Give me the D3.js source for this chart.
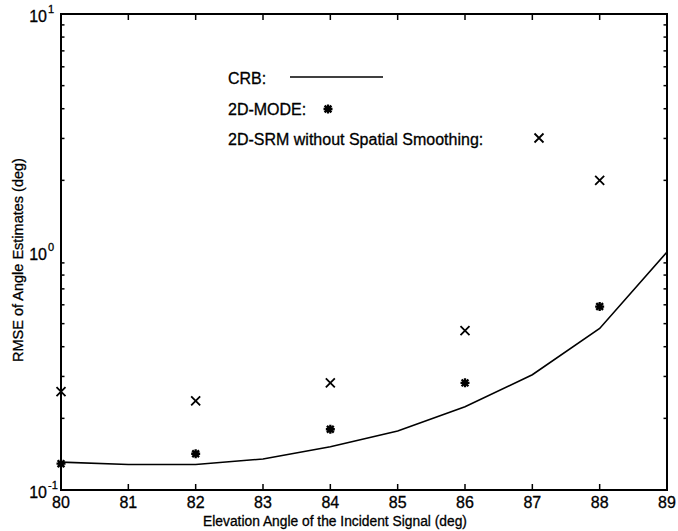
<!DOCTYPE html>
<html>
<head>
<meta charset="utf-8">
<script src="https://cdn.jsdelivr.net/npm/d3@7"></script>
<style>
  html, body { margin: 0; padding: 0; background: #fff; }
  svg { display: block; }
  text { font-family: "Liberation Sans", Arial, Helvetica, sans-serif; fill: #000; stroke: #000; stroke-width: 0.3; }
</style>
</head>
<body>
<svg id="chart" width="678" height="531"></svg>
<script>
// Elevation angles (deg)
const angles = [80, 81, 82, 83, 84, 85, 86, 87, 88, 89];
// Cramer-Rao bound, RMSE in degrees
const crb = [0.131, 0.128, 0.128, 0.135, 0.152, 0.177, 0.224, 0.305, 0.477, 1.0];
// Simulated estimators (evaluated at even angles)
const simAngles = [80, 82, 84, 86, 88];
const mode2d = [0.129, 0.142, 0.180, 0.282, 0.590];
const srm2d = [0.259, 0.237, 0.282, 0.467, 2.0];
// Axis ticks
const xTicks = [80, 81, 82, 83, 84, 85, 86, 87, 88, 89];
const yDecades = [0.1, 1, 10];
const yDecadeExp = ["-1", "0", "1"];
const legendLabels = ["CRB:", "2D-MODE:", "2D-SRM without Spatial Smoothing:"];

const svg = d3.select("#chart");
const x = d3.scaleLinear().domain([80, 89]).range([61, 667]);
const y = d3.scaleLog().domain([0.1, 10]).range([490, 14]);

const minorTicks = [];
[0.1, 1].forEach(d => { for (let k = 2; k <= 9; k++) minorTicks.push(d * k); });

const axisG = svg.append("g").attr("stroke", "#000");

// x ticks, inward on bottom and top
axisG.append("g").selectAll("line").data(xTicks.slice(1, -1)).join("line")
  .attr("x1", d => x(d)).attr("x2", d => x(d))
  .attr("y1", y(0.1)).attr("y2", y(0.1) - 6).attr("stroke-width", 1.5);
axisG.append("g").selectAll("line").data(xTicks.slice(1, -1)).join("line")
  .attr("x1", d => x(d)).attr("x2", d => x(d))
  .attr("y1", y(10)).attr("y2", y(10) + 6).attr("stroke-width", 1.5);

// y minor ticks on left and right
[[x(80), 1], [x(89), -1]].forEach(([px, dir]) => {
  axisG.append("g").selectAll("line").data(minorTicks.filter(d => d > 0.1 && d < 10)).join("line")
    .attr("x1", px).attr("x2", d => px + dir * (d === 1 ? 6 : 3.5))
    .attr("y1", d => y(d)).attr("y2", d => y(d)).attr("stroke-width", 1.5);
});

// frame
axisG.append("rect")
  .attr("x", x(80)).attr("y", y(10))
  .attr("width", x(89) - x(80)).attr("height", y(0.1) - y(10))
  .attr("fill", "none").attr("stroke-width", 2);

// x tick labels
svg.append("g").selectAll("text").data(xTicks).join("text")
  .attr("x", d => x(d)).attr("y", 508)
  .attr("text-anchor", "middle").attr("font-size", 16)
  .text(d => d);

// y decade labels 10^n
const yl = svg.append("g").selectAll("g").data(yDecades).join("g");
yl.append("text")
  .attr("x", 47).attr("y", d => y(d) + 8)
  .attr("text-anchor", "end").attr("font-size", 16)
  .text("10");
yl.append("text")
  .attr("x", 48).attr("y", d => y(d) - 1)
  .attr("font-size", 11)
  .text((d, i) => yDecadeExp[i]);

// axis titles
svg.append("text")
  .attr("x", 335).attr("y", 526)
  .attr("text-anchor", "middle").attr("font-size", 13.8)
  .text("Elevation Angle of the Incident Signal (deg)");
svg.append("text")
  .attr("transform", `translate(23, ${(y(0.1) + y(10)) / 2 + 8}) rotate(-90)`)
  .attr("text-anchor", "middle").attr("font-size", 14.5)
  .text("RMSE of Angle Estimates (deg)");

// CRB curve
const line = d3.line().x(d => x(d[0])).y(d => y(d[1]));
svg.append("path")
  .datum(angles.map((a, i) => [a, crb[i]]))
  .attr("d", line)
  .attr("fill", "none").attr("stroke", "#000").attr("stroke-width", 1.6);

// marker shapes
function asterisk(g, cx, cy) {
  const r = 4.5, s = 3.4;
  const p = `M${cx - r},${cy}L${cx + r},${cy}M${cx},${cy - r}L${cx},${cy + r}` +
            `M${cx - s},${cy - s}L${cx + s},${cy + s}M${cx - s},${cy + s}L${cx + s},${cy - s}`;
  g.append("path").attr("d", p).attr("stroke", "#000").attr("stroke-width", 2.3).attr("fill", "none");
}
function cross(g, cx, cy) {
  const r = 4.5;
  g.append("path")
    .attr("d", `M${cx - r},${cy - r}L${cx + r},${cy + r}M${cx - r},${cy + r}L${cx + r},${cy - r}`)
    .attr("stroke", "#000").attr("stroke-width", 1.8).attr("fill", "none");
}

const marks = svg.append("g");
simAngles.forEach((a, i) => {
  asterisk(marks, x(a), y(mode2d[i]));
  cross(marks, x(a), y(srm2d[i]));
});

// legend
const leg = svg.append("g");
leg.selectAll("text").data(legendLabels).join("text")
  .attr("x", 228).attr("y", (d, i) => 84 + i * 30.5)
  .attr("font-size", 16)
  .text(d => d);
leg.append("line")
  .attr("x1", 290).attr("x2", 383).attr("y1", 77).attr("y2", 77)
  .attr("stroke", "#000").attr("stroke-width", 1.6);
asterisk(leg, 328, 109);
cross(leg, 539, 138);
</script>
</body>
</html>
